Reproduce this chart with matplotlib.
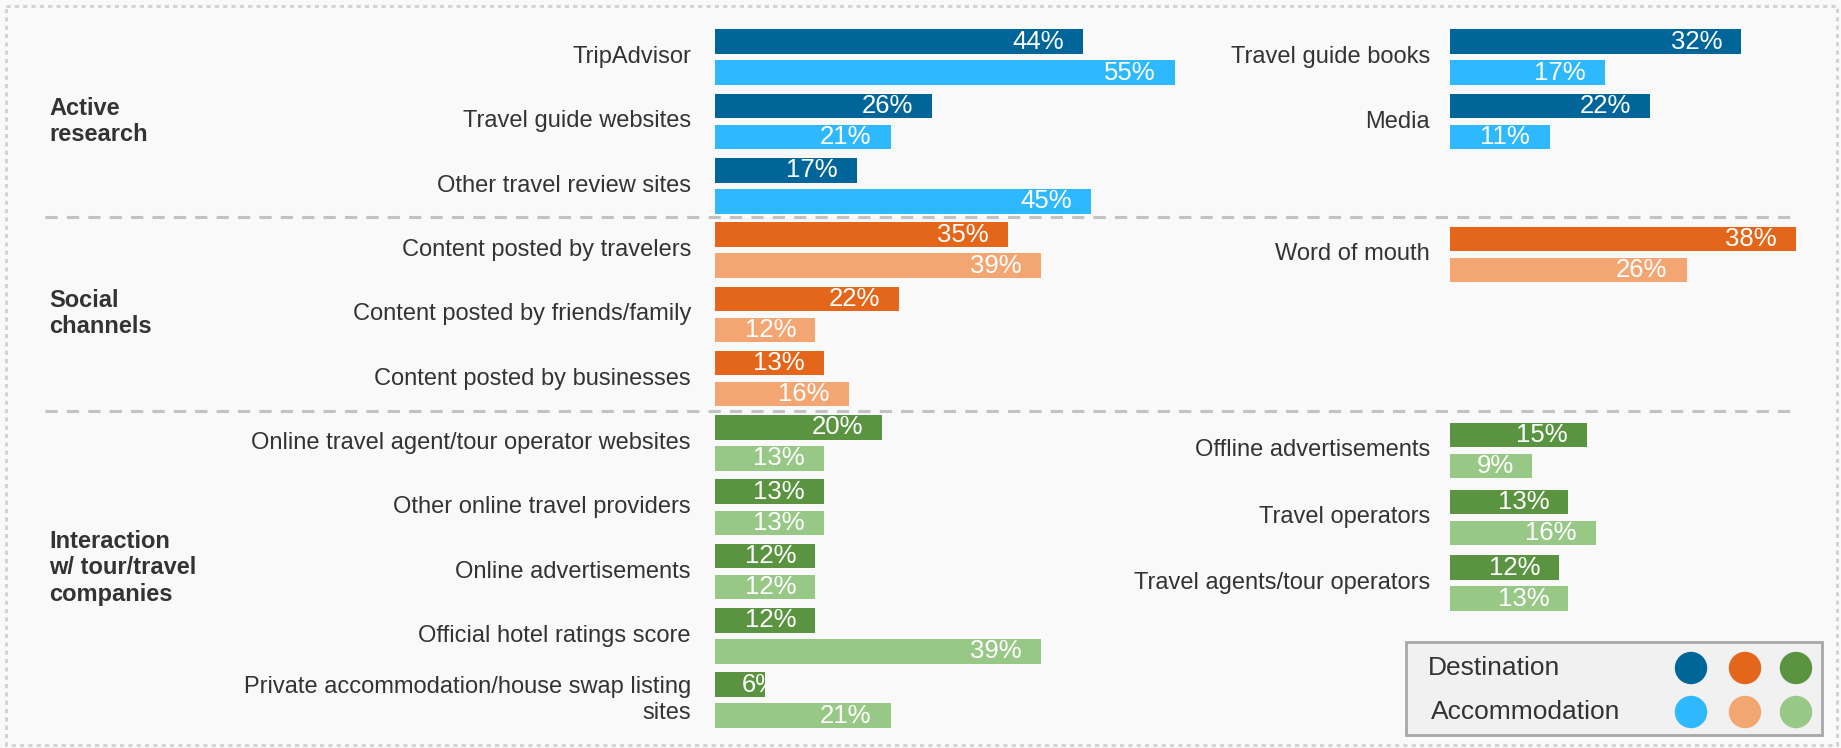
import matplotlib
matplotlib.use('Agg')
import matplotlib.pyplot as plt
from matplotlib.patches import Rectangle, Circle

plt.rcParams['font.family'] = ['Liberation Sans', 'DejaVu Sans']

# Share of travellers (%) using each source, destination vs accommodation.
left_labels = [
    'TripAdvisor', 'Travel guide websites', 'Other travel review sites',
    'Content posted by travelers', 'Content posted by friends/family',
    'Content posted by businesses',
    'Online travel agent/tour operator websites', 'Other online travel providers',
    'Online advertisements', 'Official hotel ratings score',
    'Private accommodation/house swap listing\nsites',
]
left_dest = [44, 26, 17, 35, 22, 13, 20, 13, 12, 12, 6]
left_acc = [55, 21, 45, 39, 12, 16, 13, 13, 12, 39, 21]
left_group = [0, 0, 0, 1, 1, 1, 2, 2, 2, 2, 2]

right_labels = ['Travel guide books', 'Media', 'Word of mouth',
                'Offline advertisements', 'Travel operators',
                'Travel agents/tour operators']
right_dest = [32, 22, 38, 15, 13, 12]
right_acc = [17, 11, 26, 9, 16, 13]
right_group = [0, 0, 1, 2, 2, 2]

groups = ['Active\nresearch', 'Social\nchannels', 'Interaction\nw/ tour/travel\ncompanies']
legend_rows = ['Destination', 'Accommodation']

dest_colors = ['#006699', '#e3661a', '#5a9441']
acc_colors = ['#2eb8fd', '#f3a572', '#98c886']

W, H = 1841, 748
TEXT = '#333333'

fig = plt.figure(figsize=(W / 100, H / 100), dpi=100)
fig.patch.set_facecolor('#f9f9f9')

# Overlay axes in pixel units for frame, separators, labels and legend.
bg = fig.add_axes([0, 0, 1, 1])
bg.set_xlim(0, W)
bg.set_ylim(H, 0)
bg.axis('off')

bg.add_patch(Rectangle((6, 6), 1831, 739, fill=False, edgecolor='#d0d0d0',
                       linewidth=2, linestyle=(0, (1.5, 1.5))))
for y in (217, 411):
    bg.plot([45, 1797], [y, y], color='#c2c2c2', linewidth=2.2,
            linestyle=(0, (4, 3)))

for label, cy in zip(groups, (121.5, 313.5, 568)):
    bg.text(49, cy, label, ha='left', va='center', fontsize=17,
            fontweight='bold', color=TEXT, linespacing=1.2)

BAR_H = 24.5
ACC_OFF = 31


def draw_panel(x0, width, xmax, tops, labels, dest, acc, grp, label_x):
    ax = fig.add_axes([x0 / W, 0, width / W, 1])
    ax.set_xlim(0, xmax)
    ax.set_ylim(H, 0)
    ax.axis('off')
    ax.patch.set_alpha(0)
    px_per_unit = width / xmax
    for top, lab, d, a, g in zip(tops, labels, dest, acc, grp):
        yd = top + BAR_H / 2
        ya = top + ACC_OFF + BAR_H / 2
        bd = ax.barh(yd, d, height=BAR_H, color=dest_colors[g])[0]
        ba = ax.barh(ya, a, height=BAR_H, color=acc_colors[g])[0]
        for v, y, bar in ((d, yd, bd), (a, ya, ba)):
            # value sits near the bar end, but never before the bar start
            shift = max(45, v * px_per_unit - 45) - v * px_per_unit
            t = ax.annotate(f'{v}%', (v, y), xytext=(shift, 0),
                            textcoords='offset pixels', ha='center',
                            va='center', color='white', fontsize=18.5)
            t.set_clip_path(bar)
        bg.text(label_x, top + (ACC_OFF + BAR_H) / 2, lab, ha='right',
                va='center', fontsize=17, color=TEXT, linespacing=1.25)


left_tops = [29.4 + i * 64.3 for i in range(len(left_labels))]
right_tops = [29.4, 93.9, 226.6, 422.7, 489.6, 555.4]

draw_panel(715, 460, 55, left_tops, left_labels, left_dest, left_acc,
           left_group, 691)
draw_panel(1450, 346, 38, right_tops, right_labels, right_dest, right_acc,
           right_group, 1430)

# Colour key
bg.add_patch(Rectangle((1406, 642), 416, 93, facecolor='#f1f1f1',
                       edgecolor='#a8a8a8', linewidth=2, zorder=5))
for row, (name, y, cols) in enumerate(zip(legend_rows, (668, 712),
                                          (dest_colors, acc_colors))):
    bg.text(1428 + 3 * row, y, name, ha='left', va='center', fontsize=19,
            color=TEXT, zorder=6)
    for cx, c in zip((1691, 1745, 1796), cols):
        bg.add_patch(Circle((cx, y), 15.5, color=c, zorder=6))

fig.savefig('out.png', dpi=100, facecolor=fig.get_facecolor())
